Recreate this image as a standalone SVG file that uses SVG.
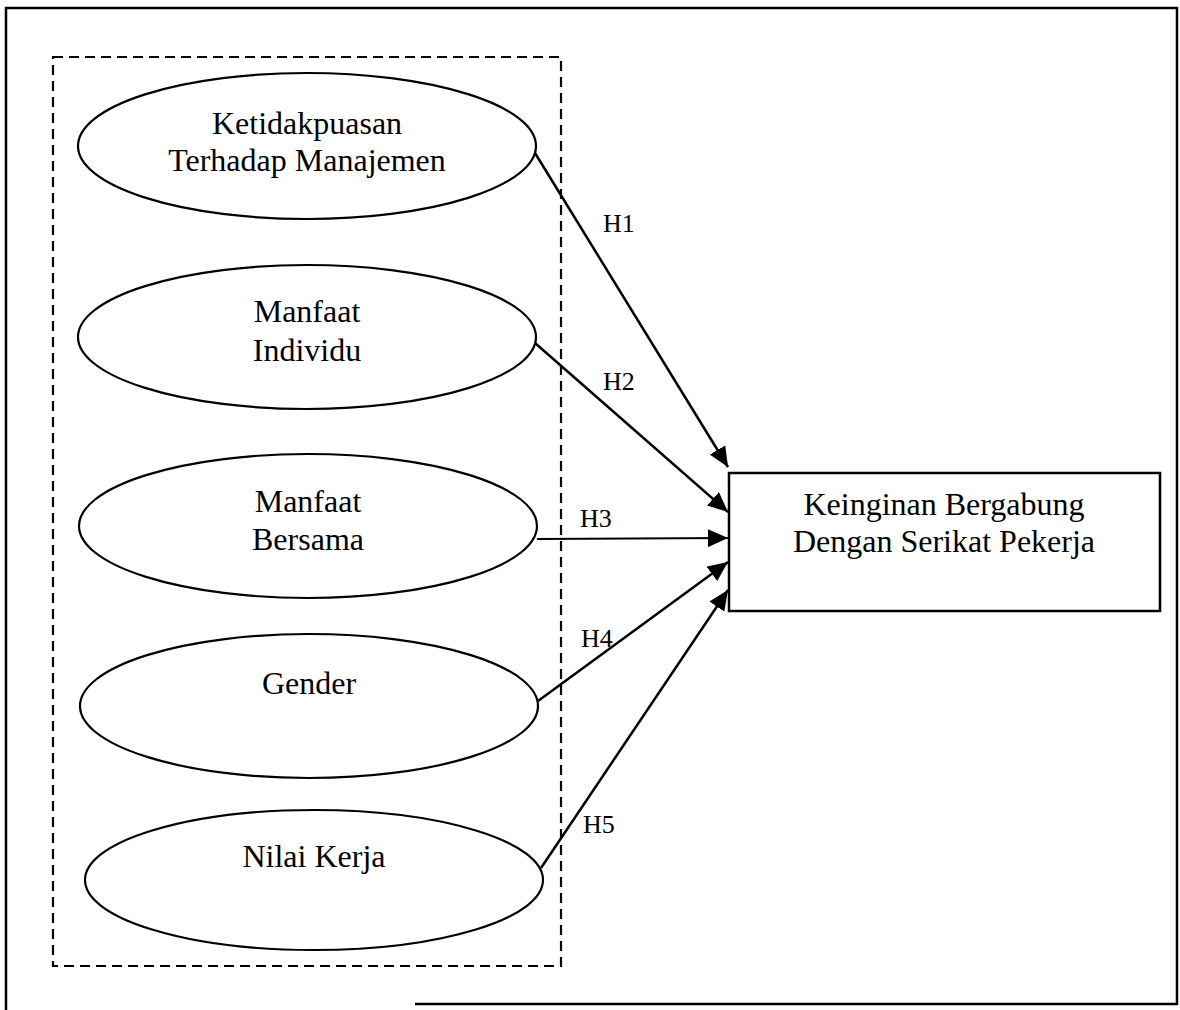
<svg xmlns="http://www.w3.org/2000/svg" width="1180" height="1010" viewBox="0 0 1180 1010">
<style>
.node ellipse{fill:none;stroke:#000;stroke-width:2.2}
.box{fill:#fff;stroke:#000;stroke-width:2.5}
.t{font-family:"Liberation Serif","Times New Roman",serif;font-size:32px;fill:#000;text-anchor:middle}
.h{font-family:"Liberation Serif","Times New Roman",serif;font-size:26px;fill:#000}
.edge{stroke:#000;stroke-width:2.5;fill:none;marker-end:url(#ah)}
</style>
<defs>
<marker id="ah" markerUnits="userSpaceOnUse" viewBox="0 0 20 18" refX="20" refY="9" markerWidth="20" markerHeight="18" orient="auto">
<path d="M0,0 L20,9 L0,18 z" fill="#000"/>
</marker>
</defs>
<rect width="1180" height="1010" fill="#fff"/>
<g id="frame" fill="none" stroke="#000" stroke-width="2.5">
<path d="M6,1010 V8 H1177 V1004 H415"/>
</g>
<rect id="group" x="53" y="57" width="508" height="909" fill="none" stroke="#000" stroke-width="2.2" stroke-dasharray="10 6"/>
<g id="n1" class="node">
<ellipse cx="307" cy="146" rx="229" ry="73"/>
<text class="t" x="307" y="134">Ketidakpuasan</text>
<text class="t" x="307" y="171">Terhadap Manajemen</text>
</g>
<g id="n2" class="node">
<ellipse cx="307" cy="337" rx="229" ry="72"/>
<text class="t" x="307" y="322">Manfaat</text>
<text class="t" x="307" y="361">Individu</text>
</g>
<g id="n3" class="node">
<ellipse cx="308" cy="526" rx="229" ry="72"/>
<text class="t" x="308" y="512">Manfaat</text>
<text class="t" x="308" y="550">Bersama</text>
</g>
<g id="n4" class="node">
<ellipse cx="309" cy="706" rx="229" ry="72"/>
<text class="t" x="309" y="694">Gender</text>
</g>
<g id="n5" class="node">
<ellipse cx="314" cy="880" rx="229" ry="70"/>
<text class="t" x="314" y="867">Nilai Kerja</text>
</g>
<g id="target">
<rect class="box" x="729" y="473" width="431" height="138"/>
<text class="t" x="944" y="515">Keinginan Bergabung</text>
<text class="t" x="944" y="552">Dengan Serikat Pekerja</text>
</g>
<g id="connectors">
<line class="edge" x1="535" y1="153" x2="728" y2="467"/>
<line class="edge" x1="535" y1="343" x2="728" y2="512"/>
<line class="edge" x1="537" y1="539" x2="728" y2="538" style="stroke-width:2"/>
<line class="edge" x1="538" y1="701" x2="728" y2="562"/>
<line class="edge" x1="541" y1="868" x2="728" y2="590"/>
<text class="h" x="603" y="232">H1</text>
<text class="h" x="603" y="390">H2</text>
<text class="h" x="580" y="527">H3</text>
<text class="h" x="581" y="647">H4</text>
<text class="h" x="583" y="833">H5</text>
</g>
</svg>
